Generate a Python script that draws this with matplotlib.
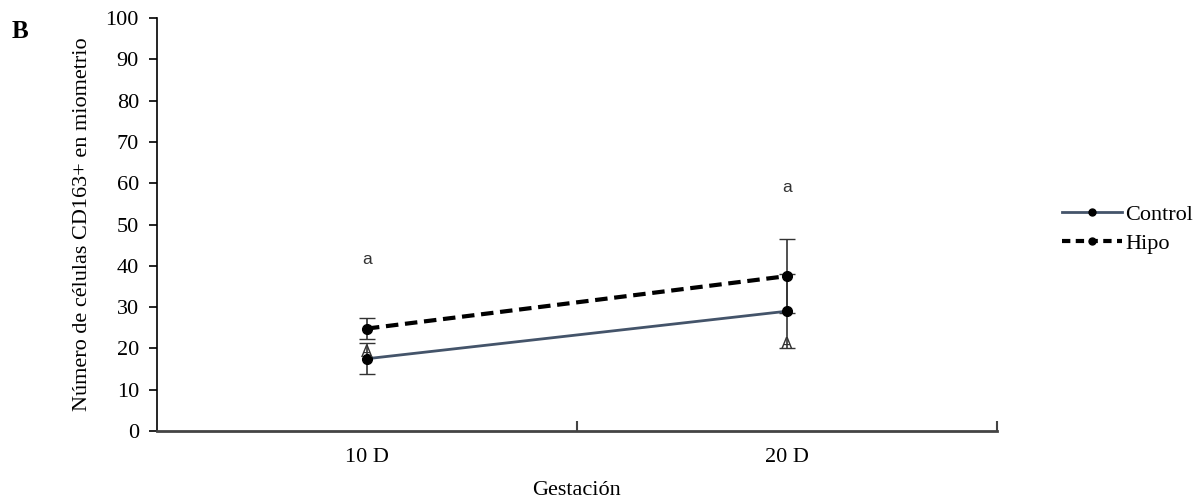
import matplotlib.pyplot as plt
from matplotlib.lines import Line2D

grupos = ["10 D", "20 D"]
control = [17.5, 29.0]
control_err = [3.8, 9.0]
hipo = [24.8, 37.5]
hipo_err = [2.5, 9.0]
# letras de significancia (texto, grupo, altura)
letras = [("a", 0, 41.5), ("a", 1, 59.0), ("A", 1, 21.0), ("A", 0, 19.0)]

plt.rcParams['font.family'] = ['Liberation Serif', 'DejaVu Serif']

fig = plt.figure(figsize=(12.03, 5.0), dpi=100)
ax = fig.add_axes([0.1305, 0.138, 0.698, 0.826])

x = [0.25, 0.75]
ax.errorbar(x, control, yerr=control_err, color="#44546A", lw=2,
            marker="o", ms=7, mfc="black", mec="black",
            ecolor="#333333", elinewidth=1.2, capsize=6)
ax.errorbar(x, hipo, yerr=hipo_err, color="black", lw=3, ls=(0, (3, 1.6)),
            marker="o", ms=7, ecolor="#333333", elinewidth=1.2, capsize=6)

for txt, i, y in letras:
    ax.text(x[i], y, txt, ha="center", va="center", fontsize=12.5,
            family="Liberation Sans", color="#333333")

ax.set_xlim(0, 1)
ax.set_ylim(0, 100)
ax.set_yticks(range(0, 101, 10))
ax.set_xticks(x)
ax.set_xticklabels(grupos)
ax.set_xticks([0.5, 1], minor=True)
ax.tick_params(axis="x", which="major", length=0, labelsize=16, pad=12)
ax.tick_params(axis="x", which="minor", direction="in", length=7, width=1.5,
               color="#444444")
ax.tick_params(axis="y", length=6, width=1.2, labelsize=16, pad=7)

ax.spines["top"].set_visible(False)
ax.spines["right"].set_visible(False)
ax.spines["left"].set_linewidth(1.2)
ax.spines["bottom"].set_linewidth(2)
ax.spines["bottom"].set_color("#444444")

ax.set_ylabel("Número de células CD163+ en miometrio", fontsize=16, labelpad=10)
ax.set_xlabel("Gestación", fontsize=16, labelpad=10)

fig.text(0.010, 0.925, "B", fontsize=18, fontweight="bold")

handles = [
    Line2D([], [], color="#44546A", lw=2, marker="o", ms=5, mfc="black",
           mec="black", label="Control"),
    Line2D([], [], color="black", lw=3, ls=(0, (2, 1.3)), marker="o", ms=5,
           label="Hipo"),
]
fig.legend(handles=handles, loc="center left", bbox_to_anchor=(0.866, 0.542),
           frameon=False, fontsize=16, handlelength=2.7, handletextpad=0.15,
           labelspacing=0.4)

fig.savefig("out.png", dpi=100)
